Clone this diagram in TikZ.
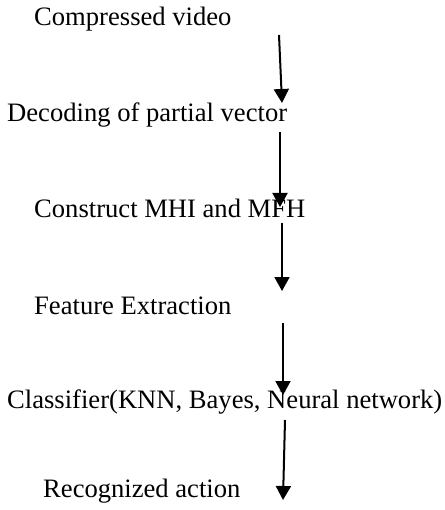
\documentclass[tikz,border=0pt]{standalone}
\usepackage{fontspec}
\setmainfont{Liberation Serif}
\usetikzlibrary{arrows.meta}
\tikzset{
  step text/.style = {anchor=base west, inner sep=0pt, font=\fontsize{26.6}{32}\selectfont},
  flow/.style      = {line width=2pt, -{Triangle[width=15pt,length=14pt]}}
}

\begin{document}
\begin{tikzpicture}[x=1pt,y=-1pt]
        \useasboundingbox (0,0) rectangle (444,510);
        % stages
        \node[step text] (video)   at (34,26)  {Compressed video};
        \node[step text] (decode)  at (7,122)  {Decoding of partial vector};
        \node[step text] (mhi)     at (34,218) {Construct MHI and MFH};
        \node[step text] (feature) at (34,314) {Feature Extraction};
        \node[step text] (classif) at (7,408)  {Classifier(KNN, Bayes, Neural network)};
        \node[step text] (action)  at (43,497) {Recognized action};
        % arrow ends
        \coordinate (a1) at (279,35);  \coordinate (b1) at (282,103);
        \coordinate (a2) at (280,132); \coordinate (b2) at (280,207);
        \coordinate (a3) at (282,223); \coordinate (b3) at (282,291);
        \coordinate (a4) at (283,323); \coordinate (b4) at (283,395);
        \coordinate (a5) at (285,420); \coordinate (b5) at (283,500);
        \foreach \i in {1,...,5}
            \draw[flow] (a\i) -- (b\i);
    \end{tikzpicture}
\end{document}
